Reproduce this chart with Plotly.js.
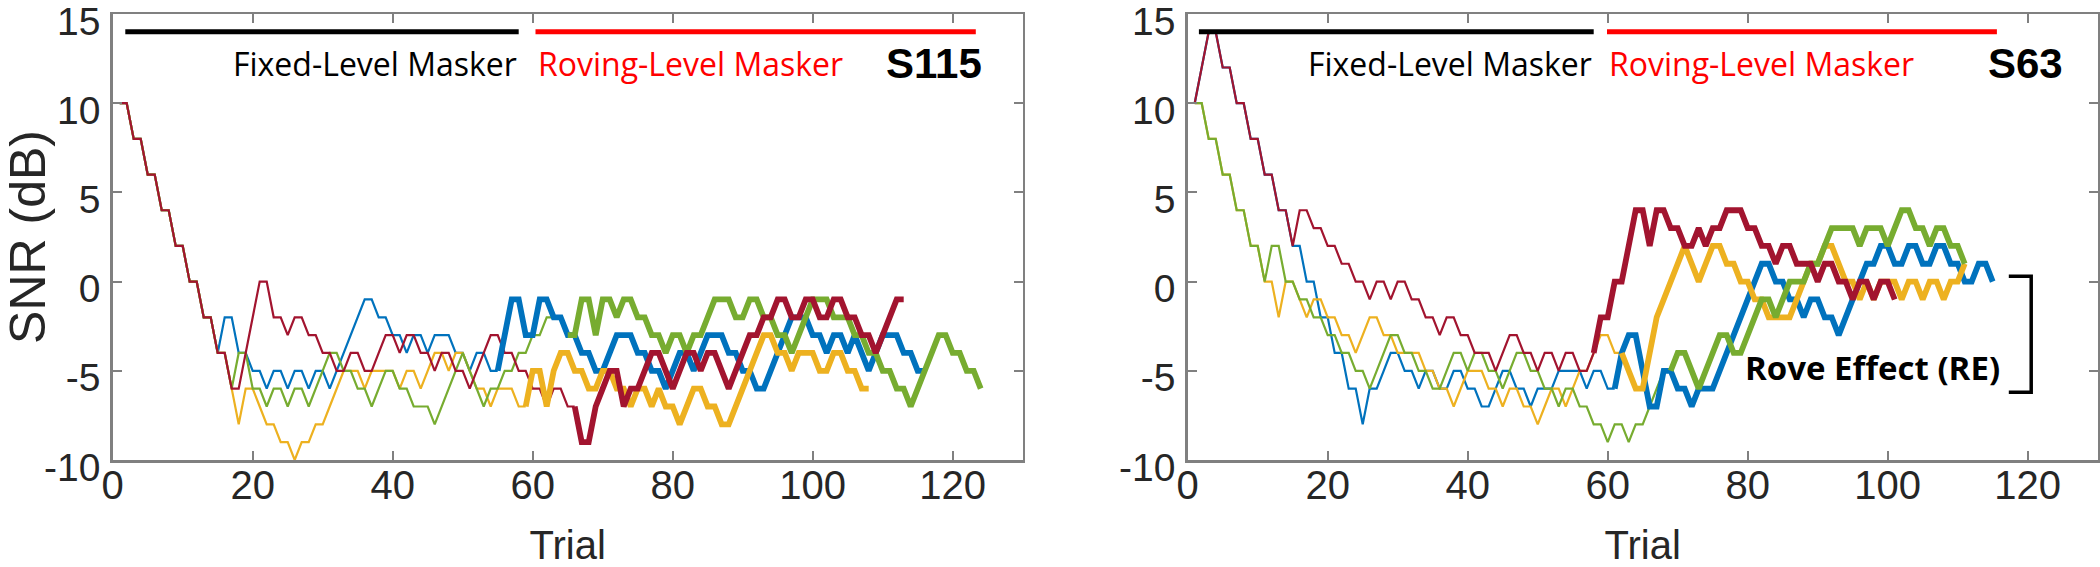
<!DOCTYPE html>
<html>
<head>
<meta charset="utf-8">
<script src="https://cdn.plot.ly/plotly-3.0.1.min.js"></script>
<style>
  body { margin: 0; background: #fff; }
  #chart { width: 2100px; height: 567px; }
</style>
</head>
<body>
<div id="chart"></div>
<script>
// SNR track per trial (dB), trial 1 first. Thick line starts at the rove trial.

// S115 (left panel)
const s115Red = [
  10,10,8,8,6,6,4,4,2,2, 0,0,-2,-2,-4,-4,-6,-6,-4,-2,
  0,0,-2,-2,-3,-2,-2,-3,-3,-4, -4,-5,-5,-4,-4,-5,-5,-4,-3,-3,
  -4,-3,-3,-4,-4,-5,-4,-4,-5,-5, -6,-5,-4,-3,-3,-4,-4,-5,-5,-6,
  -6,-7,-6,-6,-7,-7,-9,-9,-7,-6, -5,-5,-7,-6,-6,-5,-4,-4,-5,-6,
  -5,-4,-4,-5,-4,-4,-5,-6,-5,-4, -3,-3,-2,-2,-1,-1,-2,-2,-1,-1,
  -2,-2,-1,-1,-2,-2,-3,-3,-4,-3, -2,-1,-1
];
const s115Blue = [
  10,10,8,8,6,6,4,4,2,2, 0,0,-2,-2,-4,-2,-2,-4,-4,-5,
  -5,-6,-5,-5,-6,-5,-5,-6,-5,-5, -6,-5,-4,-3,-2,-1,-1,-2,-2,-3,
  -3,-4,-3,-3,-4,-3,-3,-3,-4,-4, -5,-4,-4,-5,-5,-3,-1,-1,-3,-3,
  -1,-1,-2,-2,-3,-3,-4,-4,-5,-5, -4,-3,-3,-3,-4,-4,-5,-5,-6,-5,
  -4,-4,-5,-4,-3,-3,-3,-4,-4,-5, -5,-6,-6,-5,-4,-3,-2,-2,-2,-3,
  -3,-4,-3,-3,-4,-3,-4,-5,-4,-3, -3,-3,-4,-4,-5,-5
];
const s115Yellow = [
  10,10,8,8,6,6,4,4,2,2, 0,0,-2,-2,-4,-4,-6,-8,-6,-6,
  -7,-8,-8,-9,-9,-10,-9,-9,-8,-8, -7,-6,-5,-5,-5,-6,-5,-5,-5,-5,
  -6,-5,-5,-6,-5,-4,-4,-5,-4,-4, -5,-6,-6,-7,-6,-6,-6,-7,-7,-5,
  -5,-7,-5,-4,-4,-5,-5,-6,-6,-5, -5,-6,-6,-7,-6,-6,-7,-6,-7,-7,
  -8,-7,-6,-6,-7,-7,-8,-8,-7,-6, -5,-4,-3,-3,-4,-4,-5,-4,-4,-4,
  -5,-5,-4,-4,-5,-5,-6,-6
];
const s115Green = [
  10,10,8,8,6,6,4,4,2,2, 0,0,-2,-2,-4,-4,-6,-4,-4,-6,
  -6,-7,-6,-6,-7,-6,-6,-7,-6,-5, -4,-4,-5,-5,-6,-6,-7,-6,-5,-5,
  -6,-6,-7,-7,-7,-8,-7,-6,-5,-4, -5,-6,-7,-6,-6,-5,-5,-4,-4,-3,
  -3,-2,-2,-2,-3,-3,-1,-1,-3,-1, -1,-2,-1,-1,-2,-2,-3,-3,-4,-3,
  -3,-4,-3,-3,-2,-1,-1,-1,-2,-2, -1,-1,-2,-2,-3,-3,-4,-3,-2,-1,
  -1,-1,-2,-2,-2,-3,-3,-4,-4,-5, -5,-6,-6,-7,-6,-5,-4,-3,-3,-4,
  -4,-5,-5,-6
];
// first roving-level trial of each track
const s115Rove = { red: 66, blue: 55, yellow: 59, green: 65 };

// S63 (right panel)
const s63Red = [
  10,12,14,14,12,12,10,10,8,8, 6,6,4,4,2,4,4,3,3,2,
  2,1,1,0,0,-1,0,0,-1,0, 0,-1,-1,-2,-2,-3,-2,-2,-3,-3,
  -4,-4,-4,-5,-4,-3,-3,-4,-4,-5, -4,-4,-5,-4,-4,-5,-5,-4,-2,-2,
  0,0,2,4,4,2,4,4,3,3, 2,2,3,2,3,3,4,4,4,3,
  3,2,2,1,2,2,1,1,1,0, 1,1,0,0,-1,0,0,-1,0,0,
  -1
];
const s63Blue = [
  10,12,14,14,12,12,10,10,8,8, 6,6,4,4,2,2,0,0,-2,-2,
  -4,-4,-6,-6,-8,-6,-6,-5,-4,-4, -5,-5,-6,-5,-5,-6,-6,-5,-5,-6,
  -6,-7,-7,-6,-5,-5,-6,-6,-7,-6, -6,-6,-5,-5,-5,-5,-6,-5,-5,-6,
  -6,-4,-3,-3,-5,-7,-7,-5,-5,-6, -6,-7,-6,-6,-6,-5,-4,-3,-2,-1,
  0,1,1,0,0,-1,-1,-2,-1,-1, -2,-2,-3,-2,-1,0,1,1,2,2,
  1,1,2,2,1,1,2,2,1,1, 0,0,1,1,0
];
const s63Yellow = [
  10,10,8,8,6,6,4,4,2,2, 0,0,-2,0,0,-1,-2,-1,-1,-2,
  -2,-3,-3,-4,-3,-2,-2,-3,-3,-4, -4,-4,-4,-5,-5,-6,-6,-7,-6,-5,
  -5,-5,-6,-6,-7,-6,-6,-7,-7,-8, -7,-6,-6,-7,-6,-5,-5,-4,-3,-3,
  -4,-4,-5,-6,-6,-4,-2,-1,0,1, 2,1,0,1,2,2,1,1,0,0,
  -1,-1,-2,-2,-2,-2,-1,0,1,1, 2,2,1,0,0,-1,0,-1,0,0,
  0,-1,0,0,-1,0,0,-1,0,0, 1
];
const s63Green = [
  10,10,8,8,6,6,4,4,2,2, 0,2,2,0,0,-1,-1,-2,-2,-3,
  -3,-4,-4,-5,-5,-6,-5,-4,-3,-3, -4,-4,-5,-5,-6,-6,-5,-4,-4,-5,
  -4,-4,-5,-5,-6,-5,-4,-4,-5,-5, -6,-6,-7,-6,-6,-7,-7,-8,-8,-9,
  -8,-8,-9,-8,-8,-7,-6,-5,-5,-4, -4,-5,-6,-5,-4,-3,-3,-4,-4,-3,
  -2,-1,-1,-2,-1,0,0,0,1,1, 2,3,3,3,3,2,3,3,3,2,
  3,4,4,3,3,2,3,3,2,2, 1
];
const s63Rove = { red: 58, blue: 61, yellow: 62, green: 69 };

// header bars [start trial, end trial] for the two masker phases
const s115Phases = { fixed: [1.8, 58], roving: [60.4, 123.3] };
const s63Phases = { fixed: [1.6, 58], roving: [59.9, 115.6] };

// rove effect bracket on S63: dB extent and trial extent
const reTop = 0.3;
const reBottom = -6.2;
const reLeft = 117.3;
const reRight = 120.5;

const yTicks = [-10, -5, 0, 5, 10, 15];
const yTickText = ['-10', '-5', '0', '5', '10', '15'];
const xTicks = [0, 20, 40, 60, 80, 100, 120];

const colors = {
    red: '#A2142F',
    blue: '#0072BD',
    yellow: '#EDB120',
    green: '#77AC30'
};

// Split one track into a thin fixed-level part and a thick roving part
function trackTraces(values, roveTrial, color, xa, ya) {
    const trials = values.map((v, i) => i + 1);
    const k = roveTrial - 1;
    const thin = {
        x: trials.slice(0, k + 1), y: values.slice(0, k + 1),
        xaxis: xa, yaxis: ya, type: 'scatter', mode: 'lines',
        line: { color: color, width: 2.2 }, hoverinfo: 'skip'
    };
    const thick = {
        x: trials.slice(k), y: values.slice(k),
        xaxis: xa, yaxis: ya, type: 'scatter', mode: 'lines',
        line: { color: color, width: 5.8 }, hoverinfo: 'skip'
    };
    return { thin, thick };
}

function panelTraces(tracks, rove, xa, ya) {
    const order = ['blue', 'yellow', 'green', 'red'];
    const parts = order.map(c => trackTraces(tracks[c], rove[c], colors[c], xa, ya));
    return parts.map(p => p.thin).concat(parts.map(p => p.thick));
}

const data = [].concat(
    panelTraces({ red: s115Red, blue: s115Blue, yellow: s115Yellow, green: s115Green }, s115Rove, 'x', 'y'),
    panelTraces({ red: s63Red, blue: s63Blue, yellow: s63Yellow, green: s63Green }, s63Rove, 'x2', 'y2')
);

const W = 2100, H = 567;
const plotTop = 14, plotBottom = 460, plotWidth = 910;
const leftX0 = 112.7, rightX0 = 1187.7;

const sans = 'Liberation Sans, Arial, sans-serif';
const axisLine = '#808080';

function xAxis(x0, anchor) {
    return {
        domain: [x0 / W, (x0 + plotWidth) / W],
        anchor: anchor,
        range: [0, 130],
        tickvals: xTicks,
        ticks: 'inside', ticklen: 9, tickwidth: 2, tickcolor: axisLine,
        showline: true, linecolor: axisLine, linewidth: 2.5, mirror: 'ticks',
        showgrid: false, zeroline: false,
        tickfont: { family: sans, size: 40, color: '#262626' },
        ticklabelstandoff: -12,
        ticklabeloverflow: 'allow',
        title: { text: 'Trial', font: { family: sans, size: 40, color: '#262626' }, standoff: 30 }
    };
}

function yAxis(anchor, withTitle) {
    return {
        domain: [(H - plotBottom) / H, (H - plotTop) / H],
        anchor: anchor,
        range: [-10, 15],
        tickvals: yTicks,
        ticktext: yTickText,
        ticks: 'inside', ticklen: 9, tickwidth: 2, tickcolor: axisLine,
        showline: true, linecolor: axisLine, linewidth: 2.5, mirror: 'ticks',
        showgrid: false, zeroline: false,
        tickfont: { family: sans, size: 39, color: '#262626' },
        ticklabelstandoff: 2,
        ticklabelshift: 7,
        ticklabeloverflow: 'allow',
        title: withTitle ? { text: 'SNR (dB)', font: { family: sans, size: 50, color: '#262626' }, standoff: 0 } : undefined
    };
}

function phaseShapes(phases, xref, yref) {
    return [
        { type: 'line', xref, yref, x0: phases.fixed[0], x1: phases.fixed[1], y0: 14, y1: 14,
          line: { color: '#000000', width: 5 } },
        { type: 'line', xref, yref, x0: phases.roving[0], x1: phases.roving[1], y0: 14, y1: 14,
          line: { color: '#FF0000', width: 5 } }
    ];
}

function phaseLabels(phases, subject, subjectX, xref, yref) {
    const labelFont = { family: 'Open Sans, sans-serif', size: 32 };
    return [
        { text: 'Fixed-Level Masker', x: phases.fixed[1], y: 12.2, xref, yref, xanchor: 'right', yanchor: 'middle',
          showarrow: false, font: Object.assign({ color: '#000000' }, labelFont) },
        { text: 'Roving-Level Masker', x: phases.roving[0], y: 12.2, xref, yref, xanchor: 'left', yanchor: 'middle',
          showarrow: false, font: Object.assign({ color: '#FF0000' }, labelFont) },
        { text: '<b>' + subject + '</b>', x: subjectX, y: 12.2, xref, yref, xanchor: 'right', yanchor: 'middle',
          showarrow: false, font: { family: sans, size: 42, color: '#000000' } }
    ];
}

const shapes = [].concat(
    phaseShapes(s115Phases, 'x', 'y'),
    phaseShapes(s63Phases, 'x2', 'y2'),
    [{
        type: 'path', xref: 'x2', yref: 'y2',
        path: `M ${reLeft} ${reTop} L ${reRight} ${reTop} L ${reRight} ${reBottom} L ${reLeft} ${reBottom}`,
        line: { color: '#000000', width: 3.5 }
    }]
);

const annotations = [].concat(
    phaseLabels(s115Phases, 'S115', 124.5, 'x', 'y'),
    phaseLabels(s63Phases, 'S63', 125.3, 'x2', 'y2'),
    [{
        text: '<b>Rove Effect (RE)</b>', x: 116.3, y: -4.8, xref: 'x2', yref: 'y2',
        xanchor: 'right', yanchor: 'middle', showarrow: false,
        font: { family: 'Open Sans, sans-serif', size: 33, color: '#000000' }
    }]
);

const layout = {
    width: W, height: H,
    margin: { l: 0, r: 0, t: 0, b: 0 },
    paper_bgcolor: '#ffffff', plot_bgcolor: '#ffffff',
    showlegend: false,
    xaxis: xAxis(leftX0, 'y'),
    yaxis: yAxis('x', true),
    xaxis2: xAxis(rightX0, 'y2'),
    yaxis2: yAxis('x2', false),
    shapes: shapes,
    annotations: annotations
};

Plotly.newPlot('chart', data, layout, { displayModeBar: false, staticPlot: true });
</script>
</body>
</html>
